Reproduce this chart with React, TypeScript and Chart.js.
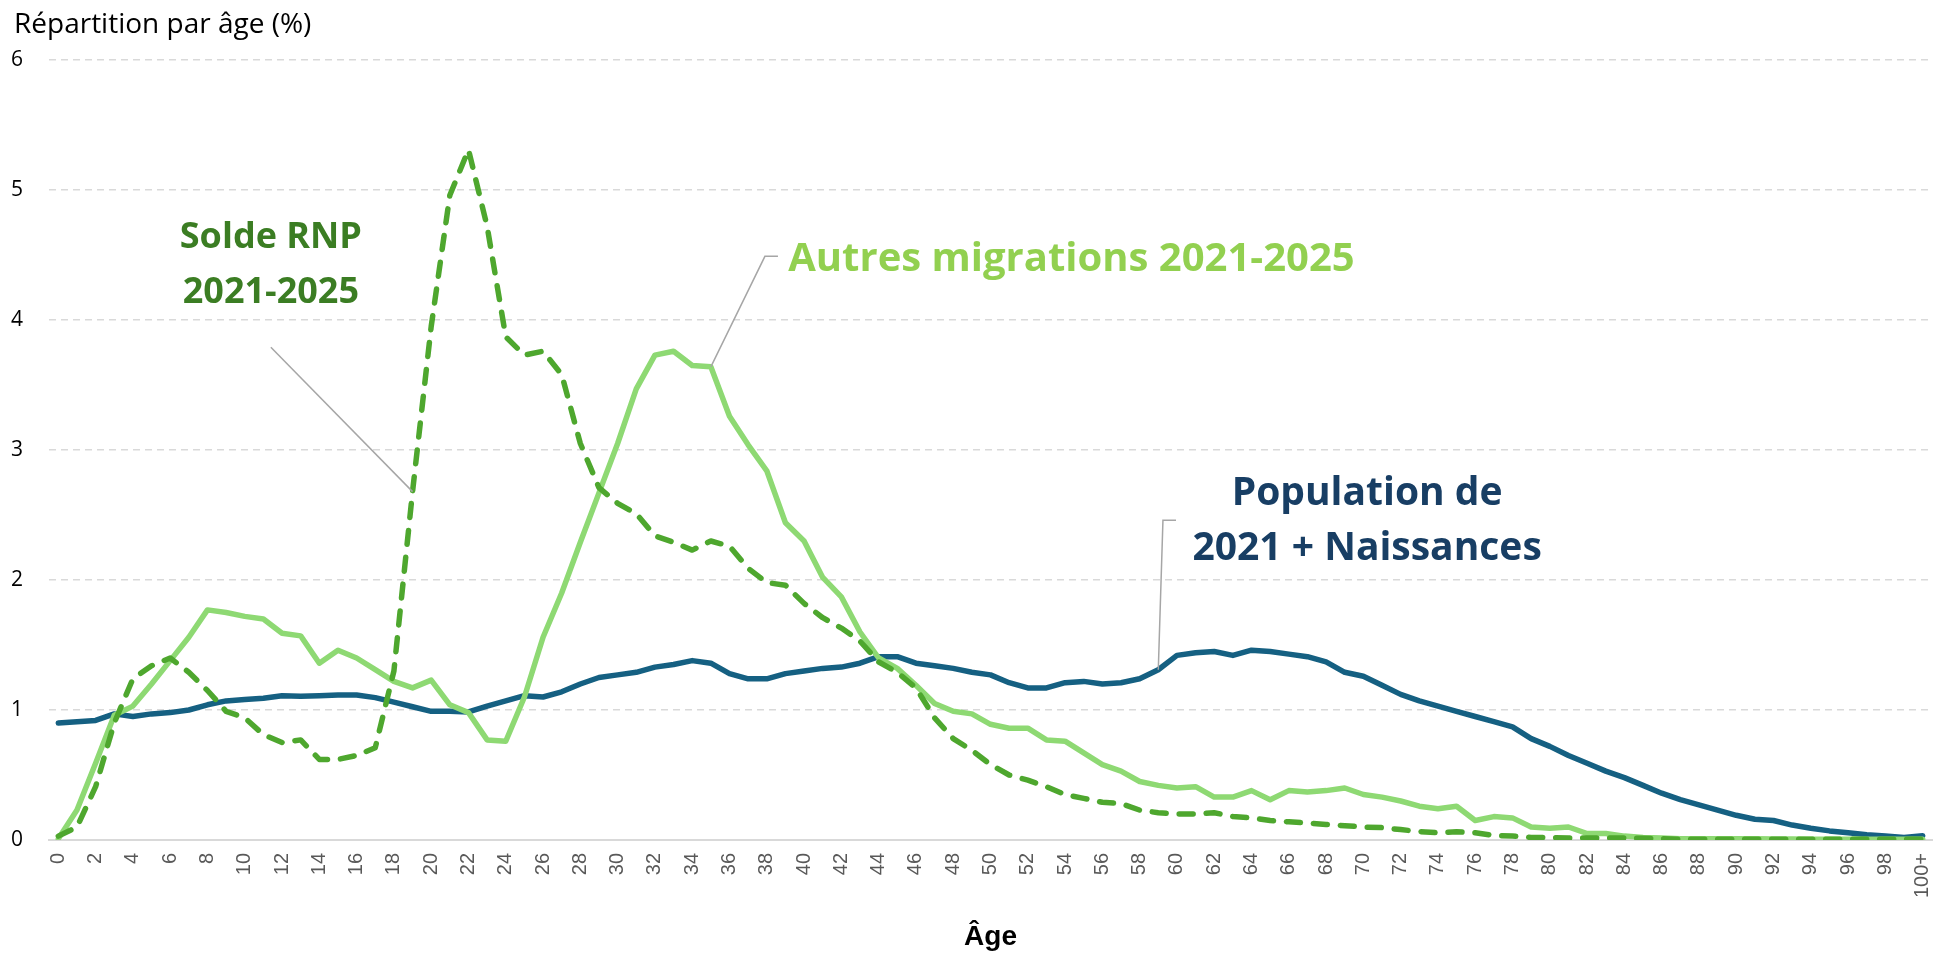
import React, { useEffect, useRef } from "react";
import { Chart, registerables } from "chart.js";

Chart.register(...registerables);

// ---- Data ----
const AGES: string[] = [
  "0","1","2","3","4","5","6","7","8","9",
  "10","11","12","13","14","15","16","17","18","19",
  "20","21","22","23","24","25","26","27","28","29",
  "30","31","32","33","34","35","36","37","38","39",
  "40","41","42","43","44","45","46","47","48","49",
  "50","51","52","53","54","55","56","57","58","59",
  "60","61","62","63","64","65","66","67","68","69",
  "70","71","72","73","74","75","76","77","78","79",
  "80","81","82","83","84","85","86","87","88","89",
  "90","91","92","93","94","95","96","97","98","99",
  "100+",
];

const POPULATION: number[] = [
  0.90, 0.91, 0.92, 0.97, 0.95, 0.97, 0.98, 1.00, 1.04, 1.07,
  1.08, 1.09, 1.11, 1.105, 1.11, 1.115, 1.115, 1.095, 1.06, 1.025,
  0.99, 0.99, 0.985, 1.03, 1.07, 1.11, 1.10, 1.14, 1.20, 1.25,
  1.27, 1.29, 1.33, 1.35, 1.38, 1.36, 1.28, 1.24, 1.24, 1.28,
  1.30, 1.32, 1.33, 1.36, 1.41, 1.41, 1.36, 1.34, 1.32, 1.29,
  1.27, 1.21, 1.17, 1.17, 1.21, 1.22, 1.20, 1.21, 1.24, 1.31,
  1.42, 1.44, 1.45, 1.42, 1.46, 1.45, 1.43, 1.41, 1.37, 1.29,
  1.26, 1.19, 1.12, 1.07, 1.03, 0.99, 0.95, 0.91, 0.87, 0.78,
  0.72, 0.65, 0.59, 0.53, 0.48, 0.42, 0.36, 0.31, 0.27, 0.23,
  0.19, 0.16, 0.15, 0.115, 0.09, 0.07, 0.056, 0.04, 0.03, 0.02,
  0.033,
];

const AUTRES_MIGRATIONS: number[] = [
  0.01, 0.23, 0.59, 0.96, 1.03, 1.20, 1.38, 1.56, 1.77, 1.75,
  1.72, 1.70, 1.59, 1.57, 1.36, 1.46, 1.40, 1.31, 1.22, 1.17,
  1.23, 1.04, 0.98, 0.77, 0.76, 1.10, 1.56, 1.90, 2.29, 2.67,
  3.05, 3.47, 3.73, 3.76, 3.65, 3.64, 3.26, 3.04, 2.84, 2.44,
  2.30, 2.02, 1.87, 1.60, 1.40, 1.32, 1.19, 1.05, 0.99, 0.97,
  0.89, 0.86, 0.86, 0.77, 0.76, 0.67, 0.58, 0.53, 0.45, 0.42,
  0.40, 0.41, 0.33, 0.33, 0.38, 0.31, 0.38, 0.37, 0.38, 0.40,
  0.35, 0.33, 0.30, 0.26, 0.24, 0.26, 0.15, 0.18, 0.17, 0.10,
  0.09, 0.10, 0.05, 0.05, 0.03, 0.02, 0.015, 0.01, 0.01, 0.01,
  0.01, 0.01, 0.008, 0.008, 0.006, 0.006, 0.005, 0.005, 0.005, 0.005,
  0.005,
];

const SOLDE_RNP: number[] = [
  0.03, 0.10, 0.41, 0.90, 1.24, 1.34, 1.40, 1.29, 1.15, 0.99,
  0.94, 0.81, 0.75, 0.77, 0.62, 0.62, 0.65, 0.71, 1.30, 2.68,
  3.95, 4.96, 5.31, 4.72, 3.87, 3.73, 3.76, 3.58, 3.05, 2.71,
  2.59, 2.51, 2.34, 2.29, 2.23, 2.30, 2.26, 2.09, 1.98, 1.96,
  1.82, 1.71, 1.63, 1.53, 1.37, 1.29, 1.17, 0.94, 0.78, 0.69,
  0.58, 0.50, 0.46, 0.41, 0.35, 0.32, 0.29, 0.28, 0.23, 0.21,
  0.20, 0.20, 0.21, 0.18, 0.17, 0.15, 0.14, 0.13, 0.12, 0.11,
  0.10, 0.095, 0.08, 0.065, 0.056, 0.064, 0.056, 0.035, 0.03, 0.02,
  0.018, 0.015, 0.015, 0.015, 0.015, 0.013, 0.01, 0.006, 0.005, 0.005,
  0.005, 0.005, 0.005, 0.005, 0.005, 0.005, 0.005, 0.005, 0.005, 0.005,
  0.005,
];

const Y_TITLE = "Répartition par âge (%)";
const X_TITLE = "Âge";

const LABEL_SOLDE = ["Solde RNP", "2021-2025"];
const LABEL_AUTRES = "Autres migrations 2021-2025";
const LABEL_POP = ["Population de", "2021 + Naissances"];

// Colours
const C_POP = "#156082";
const C_AUTRES = "#8ED973";
const C_SOLDE = "#4EA72E";
const C_POP_TEXT = "#183E64";
const C_AUTRES_TEXT = "#92D050";
const C_SOLDE_TEXT = "#3B7D23";
const C_LEADER = "#A6A6A6";
const C_GRID = "#D9D9D9";

const annotationPlugin = {
  id: "annotations",
  afterDatasetsDraw(chart: any) {
    const { ctx } = chart;
    const xs = chart.scales.x;
    const ys = chart.scales.y;
    const px = (a: number) => xs.getPixelForValue(a);
    const py = (v: number) => ys.getPixelForValue(v);

    ctx.save();
    // leader lines
    ctx.strokeStyle = C_LEADER;
    ctx.lineWidth = 1.5;
    ctx.setLineDash([]);
    ctx.beginPath();
    ctx.moveTo(px(11.4), py(3.79));
    ctx.lineTo(px(19), py(SOLDE_RNP[19]));
    ctx.stroke();

    ctx.beginPath();
    ctx.moveTo(px(35), py(AUTRES_MIGRATIONS[35]));
    ctx.lineTo(px(37.9), py(4.49));
    ctx.lineTo(px(38.6), py(4.49));
    ctx.stroke();

    ctx.beginPath();
    ctx.moveTo(px(59), py(POPULATION[59]));
    ctx.lineTo(px(59.25), py(2.46));
    ctx.lineTo(px(59.95), py(2.46));
    ctx.stroke();

    // texts
    ctx.textBaseline = "alphabetic";
    ctx.fillStyle = C_SOLDE_TEXT;
    ctx.font = "bold 36px 'Open Sans'";
    ctx.textAlign = "center";
    ctx.fillText(LABEL_SOLDE[0], px(11.4), py(4.551));
    ctx.fillText(LABEL_SOLDE[1], px(11.4), py(4.128));

    ctx.fillStyle = C_AUTRES_TEXT;
    ctx.font = "bold 40px 'Open Sans'";
    ctx.textAlign = "left";
    ctx.fillText(LABEL_AUTRES, px(39.15), py(4.374));

    ctx.fillStyle = C_POP_TEXT;
    ctx.font = "bold 39px 'Open Sans'";
    ctx.textAlign = "center";
    ctx.fillText(LABEL_POP[0], px(70.2), py(2.577));
    ctx.fillText(LABEL_POP[1], px(70.2), py(2.154));

    // y axis title (top-left)
    ctx.fillStyle = "#000";
    ctx.font = "28px 'Open Sans'";
    ctx.textAlign = "left";
    ctx.fillText(Y_TITLE, 14, 33);
    ctx.restore();
  },
};

export default function App() {
  const ref = useRef<HTMLCanvasElement>(null);

  useEffect(() => {
    if (!ref.current) return;
    const chart = new Chart(ref.current, {
      type: "line",
      data: {
        labels: AGES,
        datasets: [
          {
            label: "Solde RNP 2021-2025",
            data: SOLDE_RNP,
            borderColor: C_SOLDE,
            borderWidth: 5.5,
            borderDash: [14, 13],
            borderCapStyle: "round",
            borderJoinStyle: "round",
            pointRadius: 0,
            tension: 0,
            fill: false,
          },
          {
            label: "Autres migrations 2021-2025",
            data: AUTRES_MIGRATIONS,
            borderColor: C_AUTRES,
            borderWidth: 5.5,
            borderJoinStyle: "round",
            borderCapStyle: "round",
            pointRadius: 0,
            tension: 0,
            fill: false,
          },
          {
            label: "Population de 2021 + Naissances",
            data: POPULATION,
            borderColor: C_POP,
            borderWidth: 5.5,
            borderJoinStyle: "round",
            borderCapStyle: "round",
            pointRadius: 0,
            tension: 0,
            fill: false,
          },
        ],
      },
      options: {
        responsive: false,
        animation: false,
        devicePixelRatio: 1,
        layout: { padding: { top: 60, right: 10, left: 0, bottom: 0 } },
        plugins: {
          legend: { display: false },
          tooltip: { enabled: false },
        },
        scales: {
          x: {
            type: "category",
            offset: true,
            grid: { display: false, drawTicks: false },
            border: { display: true, color: C_GRID, width: 2 },
            ticks: {
              autoSkip: false,
              minRotation: 90,
              maxRotation: 90,
              padding: 13,
              color: "#595959",
              font: { family: "'Liberation Sans'", size: 20 },
              callback: (_v: any, i: number) => (i % 2 === 0 ? AGES[i] : ""),
            },
            title: {
              display: true,
              text: X_TITLE,
              color: "#000",
              font: { family: "'Liberation Sans'", size: 28, weight: "bold" },
              padding: { top: 0, bottom: 1 },
            },
            afterFit: (scale: any) => {
              scale.height = 115;
              scale.paddingLeft = 0;
              scale.paddingRight = 0;
            },
          },
          y: {
            min: 0,
            max: 6,
            grid: { color: C_GRID, lineWidth: 1.5, drawTicks: false },
            border: { display: false, dash: [7, 5] },
            ticks: {
              stepSize: 1,
              padding: 26,
              color: "#000",
              font: { family: "'Open Sans'", size: 21 },
            },
            afterFit: (scale: any) => {
              scale.width = 49;
              scale.paddingTop = 0;
              scale.paddingBottom = 0;
            },
          },
        },
      },
      plugins: [annotationPlugin],
    } as any);
    return () => chart.destroy();
  }, []);

  return (
    <div
      style={{
        position: "absolute",
        left: 0,
        top: 0,
        width: 1942,
        height: 955,
        background: "#fff",
      }}
    >
      <canvas ref={ref} width={1942} height={955} style={{ display: "block" }} />
    </div>
  );
}
